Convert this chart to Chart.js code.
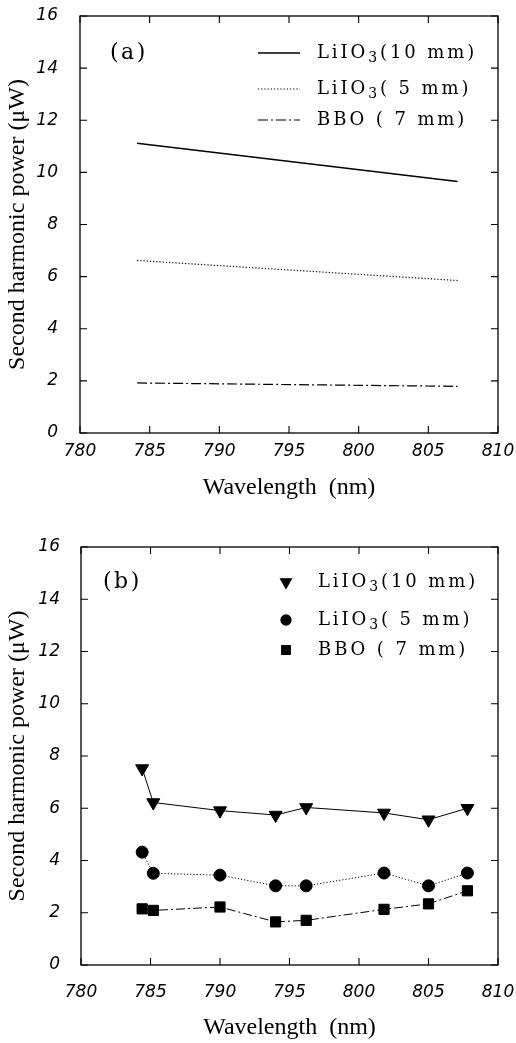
<!DOCTYPE html>
<html><head><meta charset="utf-8">
<script src="https://cdn.jsdelivr.net/npm/chart.js@4.4.0/dist/chart.umd.min.js"></script>
<style>
html,body{margin:0;padding:0;background:#fff;}
#wrap{position:relative;width:516px;height:1043px;overflow:hidden;}
canvas{position:absolute;left:0;display:block;}
#ca{top:0;}
#cb{top:520px;}
</style></head><body>
<div id="wrap">
<canvas id="ca" width="516" height="520"></canvas>
<canvas id="cb" width="516" height="523"></canvas>
</div>
<script>
// ---- data ----
const xTickValues = [780, 785, 790, 795, 800, 805, 810];
const yTickValues = [0, 2, 4, 6, 8, 10, 12, 14, 16];
const seriesNames = ['LiIO₃(10 mm)', 'LiIO₃( 5 mm)', 'BBO ( 7 mm)'];
const panelLabels = ['(a)', '(b)'];
const xTitle = 'Wavelength  (nm)';
const yTitle = 'Second harmonic power (μW)';

// panel (a): calculated curves
const wavelengthA = [784.1, 807.1];
const lio3_10A = [11.12, 9.65];
const lio3_5A = [6.62, 5.85];
const bboA = [1.92, 1.79];

// panel (b): measured points
const wavelengthB = [784.4, 785.2, 790.0, 794.0, 796.2, 801.8, 805.0, 807.8];
const lio3_10B = [7.52, 6.22, 5.91, 5.74, 6.03, 5.82, 5.56, 6.0];
const lio3_5B = [4.32, 3.51, 3.44, 3.03, 3.03, 3.52, 3.03, 3.52];
const bboB = [2.15, 2.09, 2.22, 1.65, 1.71, 2.13, 2.34, 2.84];

const pts = (xs, ys) => xs.map((x, i) => ({x: x, y: ys[i]}));

const SUBS = '₀₁₂₃₄₅₆₇₈₉';
// draw text, rendering unicode subscript digits as lowered smaller digits
function drawRich(ctx, text, x, y, size, family, spacing) {
  let seg = '', sub = false, cx = x;
  const flush = () => {
    if (!seg) return;
    const s = sub ? Math.round(size * 0.78) : size;
    ctx.font = s + 'px ' + family;
    ctx.fillText(seg, cx, y + (sub ? size * 0.28 : 0));
    cx += ctx.measureText(seg).width;
    seg = '';
  };
  ctx.letterSpacing = spacing + 'px';
  for (const ch of text) {
    const k = SUBS.indexOf(ch);
    const isSub = k >= 0;
    if (isSub !== sub) { flush(); sub = isSub; }
    seg += isSub ? String(k) : ch;
  }
  flush();
}

const framePlugin = {
  id: 'frameLegend',
  beforeDraw(chart) {
    const ctx = chart.ctx;
    ctx.save();
    ctx.fillStyle = '#fff';
    ctx.fillRect(0, 0, chart.width, chart.height);
    ctx.restore();
  },
  afterDraw(chart, args, opts) {
    const ctx = chart.ctx;
    const {left, right, top, bottom} = chart.chartArea;
    const xs = chart.scales.x, ys = chart.scales.y;
    ctx.save();
    ctx.strokeStyle = '#000';
    ctx.lineWidth = 1.3;
    ctx.strokeRect(left, top, right - left, bottom - top);
    const tl = 7;
    ctx.lineWidth = 1.1;
    ctx.beginPath();
    xs.ticks.forEach(t => {
      const p = xs.getPixelForValue(t.value);
      ctx.moveTo(p, bottom); ctx.lineTo(p, bottom - tl);
      ctx.moveTo(p, top); ctx.lineTo(p, top + tl);
    });
    ys.ticks.forEach(t => {
      const p = ys.getPixelForValue(t.value);
      ctx.moveTo(left, p); ctx.lineTo(left + tl, p);
      ctx.moveTo(right, p); ctx.lineTo(right - tl, p);
    });
    ctx.stroke();

    // panel label
    ctx.fillStyle = '#000';
    ctx.textBaseline = 'middle';
    ctx.textAlign = 'left';
    drawRich(ctx, opts.label, left + opts.labelDx, top + opts.rowsDy[0], 22, '"DejaVu Serif"', 2.5);

    // legend
    chart.data.datasets.forEach((ds, i) => {
      const y = top + opts.rowsDy[i];
      if (opts.markers) {
        ctx.save();
        ctx.fillStyle = '#000';
        ctx.strokeStyle = '#000';
        Chart.helpers.drawPoint(ctx, {
          pointStyle: ds.pointStyle, rotation: ds.rotation || 0,
          radius: ds.pointRadius * 0.85, borderWidth: 1
        }, left + opts.markerDx, y);
        ctx.restore();
      } else {
        ctx.save();
        ctx.strokeStyle = '#000';
        ctx.lineWidth = ds.borderWidth;
        ctx.setLineDash(ds.borderDash || []);
        ctx.beginPath();
        ctx.moveTo(left + opts.sampleDx[0], y);
        ctx.lineTo(left + opts.sampleDx[1], y);
        ctx.stroke();
        ctx.restore();
      }
      ctx.fillStyle = '#000';
      drawRich(ctx, ds.label, left + opts.textDx, y, 18, '"DejaVu Serif"', 2.9);
    });
    ctx.restore();
  }
};

function makeScales(cfg) {
  return {
    x: {
      type: 'linear', min: 780, max: 810,
      afterBuildTicks: s => { s.ticks = xTickValues.map(v => ({value: v})); },
      afterFit: s => { s.height = cfg.xHeight; s.paddingLeft = 0; s.paddingRight = 0; },
      grid: {display: false},
      border: {display: false},
      ticks: {
        color: '#000', padding: cfg.xPad, maxRotation: 0, autoSkip: false,
        font: {family: '"DejaVu Sans"', style: 'italic', size: 17},
        callback: v => String(v)
      },
      title: {
        display: true, text: xTitle, color: '#000',
        font: {family: '"Liberation Serif"', size: 24},
        padding: {top: 0, bottom: cfg.xTitlePad}
      }
    },
    y: {
      type: 'linear', min: 0, max: 16,
      afterBuildTicks: s => { s.ticks = yTickValues.map(v => ({value: v})); },
      afterFit: s => { s.width = cfg.yWidth; s.paddingTop = 0; s.paddingBottom = 0; },
      grid: {display: false},
      border: {display: false},
      ticks: {
        color: '#000', padding: cfg.yPad, autoSkip: false,
        font: {family: '"DejaVu Sans"', style: 'italic', size: 17},
        callback: v => String(v)
      },
      title: {
        display: true, text: yTitle, color: '#000',
        font: {family: '"Liberation Serif"', size: 24},
        padding: {top: 3, bottom: 0}
      }
    }
  };
}

const common = {
  responsive: false,
  animation: false,
  events: [],
  plugins: {legend: {display: false}, tooltip: {enabled: false}}
};

new Chart(document.getElementById('ca'), {
  type: 'scatter',
  data: {
    datasets: [
      {label: seriesNames[0], data: pts(wavelengthA, lio3_10A), showLine: true, pointRadius: 0,
       borderColor: '#000', borderWidth: 1.4, borderDash: []},
      {label: seriesNames[1], data: pts(wavelengthA, lio3_5A), showLine: true, pointRadius: 0,
       borderColor: '#000', borderWidth: 1.2, borderDash: [1.2, 2]},
      {label: seriesNames[2], data: pts(wavelengthA, bboA), showLine: true, pointRadius: 0,
       borderColor: '#000', borderWidth: 1.2, borderDash: [10, 3, 2, 3]}
    ]
  },
  options: Object.assign({}, common, {
    layout: {padding: {top: 16, right: 18, left: 0, bottom: 0}},
    scales: makeScales({xHeight: 87, xPad: 0, xTitlePad: 18, yWidth: 80, yPad: 14}),
    plugins: Object.assign({}, common.plugins, {
      frameLegend: {label: panelLabels[0], labelDx: 30, rowsDy: [37, 73, 104],
        markers: false, sampleDx: [178, 220], textDx: 237}
    })
  }),
  plugins: [framePlugin]
});

new Chart(document.getElementById('cb'), {
  type: 'scatter',
  data: {
    datasets: [
      {label: seriesNames[0], data: pts(wavelengthB, lio3_10B), showLine: true,
       pointStyle: 'triangle', rotation: 180, pointRadius: 7.5,
       pointBackgroundColor: '#000', pointBorderColor: '#000', pointBorderWidth: 1,
       borderColor: '#000', borderWidth: 1, borderDash: []},
      {label: seriesNames[1], data: pts(wavelengthB, lio3_5B), showLine: true,
       pointStyle: 'circle', pointRadius: 6,
       pointBackgroundColor: '#000', pointBorderColor: '#000', pointBorderWidth: 1,
       borderColor: '#000', borderWidth: 1, borderDash: [1.2, 2]},
      {label: seriesNames[2], data: pts(wavelengthB, bboB), showLine: true,
       pointStyle: 'rect', pointRadius: 7.2,
       pointBackgroundColor: '#000', pointBorderColor: '#000', pointBorderWidth: 1,
       borderColor: '#000', borderWidth: 1, borderDash: [9, 3, 2, 3]}
    ]
  },
  options: Object.assign({}, common, {
    layout: {padding: {top: 27, right: 18, left: 0, bottom: 0}},
    scales: makeScales({xHeight: 78, xPad: 9, xTitlePad: 1, yWidth: 81, yPad: 13}),
    plugins: Object.assign({}, common.plugins, {
      frameLegend: {label: panelLabels[1], labelDx: 22, rowsDy: [35, 73, 103],
        markers: true, markerDx: 205, textDx: 237}
    })
  }),
  plugins: [framePlugin]
});
</script>
</body></html>
